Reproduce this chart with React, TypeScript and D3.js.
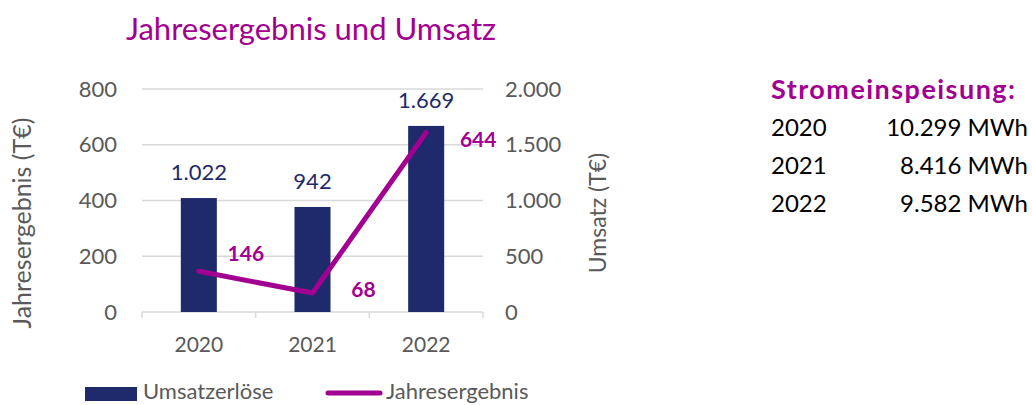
import React from "react";
import * as d3 from "d3";

const years = ["2020", "2021", "2022"];
const umsatz = [1022, 942, 1669];
const jahresergebnis = [146, 68, 644];
const leftTicks = [0, 200, 400, 600, 800];
const rightTicks = [0, 500, 1000, 1500, 2000];
const stromYears = ["2020", "2021", "2022"];
const stromMWh = [10299, 8416, 9582];

const NAVY = "#1F2A6C";
const MAGENTA = "#A20090";
const GRAY = "#595959";
const FONT = "'Source Sans Pro', Lato, sans-serif";

const de = d3.formatLocale({ decimal: ",", thousands: ".", grouping: [3], currency: ["", "€"] });
const fmt = de.format(",d");

export default function App() {
  const W = 1032, H = 405;
  const x = d3.scaleBand<string>().domain(years).range([142, 483]).paddingInner(0.683).paddingOuter(0.3415);
  const yL = d3.scaleLinear().domain([0, 800]).range([312, 89]);
  const yR = d3.scaleLinear().domain([0, 2000]).range([312, 89]);
  const step = x.step();
  const bw = x.bandwidth();
  const cx = (y: string) => (x(y) as number) + bw / 2;
  const line = d3.line<number>().x((_, i) => cx(years[i])).y((d) => yL(d));
  const boundaries = d3.range(years.length + 1).map((i) => 142 + i * step);
  const lineLabelOffset = [{ dx: 47, dy: -18 }, { dx: 51, dy: -3 }, { dx: 52, dy: 7 }];

  return (
    <svg width={W} height={H} style={{ position: "absolute", left: 0, top: 0, fontFamily: FONT }}>
      <rect width={W} height={H} fill="#fff" />
      <text x={311} y={40} textAnchor="middle" fontSize={31} fill={MAGENTA}>Jahresergebnis und Umsatz</text>
      {leftTicks.filter((t) => t > 0).map((t) => (
        <line key={t} x1={142} x2={483} y1={yL(t)} y2={yL(t)} stroke="#D9D9D9" strokeWidth={1.5} />
      ))}
      <line x1={142} x2={483} y1={yL(0)} y2={yL(0)} stroke="#D9D9D9" strokeWidth={1.5} />
      {boundaries.map((b, i) => (
        <line key={i} x1={b} x2={b} y1={312} y2={318} stroke="#D9D9D9" strokeWidth={1.5} />
      ))}
      {leftTicks.map((t) => (
        <text key={t} x={117} y={yL(t)} dy="0.35em" textAnchor="end" fontSize={22} fill={GRAY}>{fmt(t)}</text>
      ))}
      {rightTicks.map((t) => (
        <text key={t} x={505} y={yR(t)} dy="0.35em" textAnchor="start" fontSize={22} fill={GRAY}>{fmt(t)}</text>
      ))}
      <text transform="translate(31,223) rotate(-90)" textAnchor="middle" fontSize={25} fill={GRAY}>Jahresergebnis (T€)</text>
      <text transform="translate(606,213) rotate(-90)" textAnchor="middle" fontSize={23} fill={GRAY}>Umsatz (T€)</text>
      {years.map((y, i) => (
        <g key={y}>
          <rect x={x(y)} y={yR(umsatz[i])} width={bw} height={312 - yR(umsatz[i])} fill={NAVY} />
          <text x={cx(y)} y={yR(umsatz[i]) - 18} textAnchor="middle" fontSize={22} fill={NAVY}>{fmt(umsatz[i])}</text>
          <text x={cx(y)} y={345} dy="0.35em" textAnchor="middle" fontSize={21} fill={GRAY}>{y}</text>
        </g>
      ))}
      <path d={line(jahresergebnis) as string} fill="none" stroke={MAGENTA} strokeWidth={5} strokeLinejoin="round" strokeLinecap="round" />
      {years.map((y, i) => (
        <text key={y} x={cx(y) + lineLabelOffset[i].dx} y={yL(jahresergebnis[i]) + lineLabelOffset[i].dy} dy="0.35em" textAnchor="middle" fontSize={21} fontWeight="bold" fill={MAGENTA}>{fmt(jahresergebnis[i])}</text>
      ))}
      <rect x={85} y={387} width={52} height={14} fill={NAVY} />
      <text x={143} y={399} fontSize={22} fill={GRAY}>Umsatzerlöse</text>
      <line x1={328} x2={380} y1={393} y2={393} stroke={MAGENTA} strokeWidth={5} strokeLinecap="round" />
      <text x={386} y={399} fontSize={22} fill={GRAY}>Jahresergebnis</text>
      <text x={771} y={99} fontSize={27} fontWeight="bold" fill={MAGENTA} textLength={244} lengthAdjust="spacing">Stromeinspeisung:</text>
      {stromYears.map((y, i) => (
        <g key={y}>
          <text x={771} y={128 + i * 38} dy="0.35em" fontSize={24} fill="#000">{y}</text>
          <text x={1028} y={128 + i * 38} dy="0.35em" textAnchor="end" fontSize={24} fill="#000">{fmt(stromMWh[i])} MWh</text>
        </g>
      ))}
    </svg>
  );
}
